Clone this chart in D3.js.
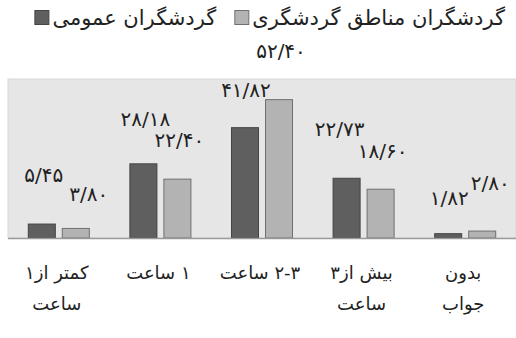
<!DOCTYPE html>
<html>
<head>
<meta charset="utf-8">
<script src="https://cdn.jsdelivr.net/npm/d3@7"></script>
<style>
  body { margin: 0; background: #fff; }
  text { font-family: "DejaVu Sans", sans-serif; fill: #222; }
</style>
</head>
<body>
<div class="container"></div>
<script>
// chart data
var categories = ["کمتر از۱\nساعت", "۱ ساعت", "۲-۳ ساعت", "بیش از۳\nساعت", "بدون\nجواب"];
var seriesNames = ["گردشگران عمومی", "گردشگران مناطق گردشگری"];
var generalTourists = [5.45, 28.18, 41.82, 22.73, 1.82];
var areaTourists = [3.80, 22.40, 52.40, 18.60, 2.80];

// label nudges (dx, dy from the top-centre of each bar), as placed in the original
var generalNudge = [[2, -49], [2, -44], [1, -37], [-7, -49], [1, -35]];
var areaNudge = [[13, -34], [2, -39], [2, -48], [2, -38], [8, -48]];

const WIDTH = 516;
const HEIGHT = 338;
const PLOT_LEFT = 8;
const PLOT_RIGHT = 516;
const PLOT_TOP = 79;
const PLOT_BOTTOM = 238;
const COLORS = ["#5f5f5f", "#b3b3b3"];
const STROKES = ["#444", "#707070"];
const RLE = "\u202B", PDF = "\u202C";

var toPersian = function (value) {
    var digits = "۰۱۲۳۴۵۶۷۸۹";
    return d3.format(".2f")(value).replace(".", "/").replace(/[0-9]/g, function (c) {
        return digits[+c];
    });
};

var svg = d3.select('.container').append('svg')
    .attr('width', WIDTH)
    .attr('height', HEIGHT);

svg.append('rect')
    .attr('x', PLOT_LEFT).attr('y', PLOT_TOP)
    .attr('width', PLOT_RIGHT - PLOT_LEFT).attr('height', PLOT_BOTTOM - PLOT_TOP)
    .attr('fill', '#e6e6e6')
    .attr('stroke', '#d8d8d8');

var xScale = d3.scaleBand()
    .domain(categories)
    .range([PLOT_LEFT, PLOT_RIGHT]);

var seriesScale = d3.scaleBand()
    .domain([0, 1])
    .range([0, xScale.bandwidth()])
    .paddingInner(0.176)
    .paddingOuter(0.582);

var yScale = d3.scaleLinear()
    .domain([0, 60])
    .range([PLOT_BOTTOM, PLOT_TOP]);

var series = [generalTourists, areaTourists];
var nudges = [generalNudge, areaNudge];

var rows = [];
series.forEach(function (values, s) {
    values.forEach(function (v, i) {
        rows.push({s: s, cat: categories[i], value: v, nudge: nudges[s][i]});
    });
});

var barX = function (d) { return xScale(d.cat) + seriesScale(d.s); };

svg.selectAll('rect.bar')
    .data(rows)
    .enter().append('rect')
    .attr('class', 'bar')
    .attr('x', function (d) { return barX(d) + 0.5; })
    .attr('y', function (d) { return yScale(d.value) + 0.5; })
    .attr('width', seriesScale.bandwidth() - 1)
    .attr('height', function (d) { return yScale(0) - yScale(d.value) - 0.5; })
    .attr('fill', function (d) { return COLORS[d.s]; })
    .attr('stroke', function (d) { return STROKES[d.s]; });

// baseline
svg.append('line')
    .attr('x1', PLOT_LEFT).attr('x2', PLOT_RIGHT)
    .attr('y1', yScale(0) + 0.5).attr('y2', yScale(0) + 0.5)
    .attr('stroke', '#9a9a9a')
    .attr('stroke-width', 1.5);

// value labels
svg.selectAll('text.value')
    .data(rows)
    .enter().append('text')
    .attr('class', 'value')
    .attr('direction', 'ltr')
    .attr('text-anchor', 'middle')
    .attr('dominant-baseline', 'central')
    .attr('font-size', 20)
    .attr('letter-spacing', 0.8)
    .attr('x', function (d) { return barX(d) + seriesScale.bandwidth() / 2 + d.nudge[0]; })
    .attr('y', function (d) { return yScale(d.value) + d.nudge[1]; })
    .text(function (d) { return toPersian(d.value); });

// category labels
svg.selectAll('text.cat')
    .data(categories)
    .enter().append('text')
    .attr('class', 'cat')
    .style('direction', 'rtl')
    .attr('text-anchor', 'middle')
    .attr('font-size', 18)
    .attr('y', 279)
    .each(function (c) {
        var t = d3.select(this);
        c.split('\n').forEach(function (line, k) {
            t.append('tspan')
                .attr('x', xScale(c) + xScale.bandwidth() / 2 - 2)
                .attr('dy', k === 0 ? 0 : 31)
                .text(RLE + line + PDF);
        });
    });

// legend, laid out right to left
var legendX = 505;
var legend = svg.append('g');
[1, 0].forEach(function (s) {
    var label = legend.append('text')
        .style('direction', 'rtl')
        .attr('text-anchor', 'start')
        .attr('font-size', 21)
        .attr('x', legendX)
        .attr('y', 25)
        .text(seriesNames[s]);
    var w = label.node().getComputedTextLength();
    legend.append('rect')
        .attr('x', legendX - w - 17.5).attr('y', 10.5)
        .attr('width', 14).attr('height', 14)
        .attr('fill', COLORS[s])
        .attr('stroke', STROKES[s]);
    legendX = legendX - w - 36;
});
</script>
</body>
</html>
